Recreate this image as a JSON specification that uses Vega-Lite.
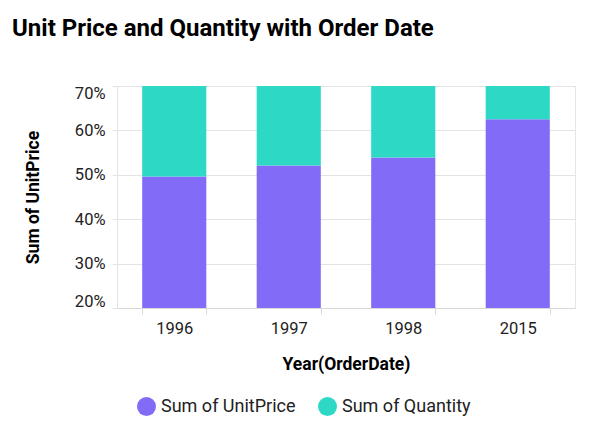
{
  "$schema": "https://vega.github.io/schema/vega-lite/v6.json",
  "autosize": "none",
  "padding": {"left": 117, "top": 86, "right": 19, "bottom": 140},
  "width": 458,
  "height": 222,
  "background": "white",
  "config": {
    "font": "Roboto",
    "view": {"stroke": "#e4e4e4"},
    "axis": {"labelFont": "Roboto", "titleFont": "Roboto"}
  },
  "title": {
    "text": "Unit Price and Quantity with Order Date",
    "anchor": "start",
    "frame": "group",
    "dx": -105,
    "offset": 44,
    "fontSize": 24,
    "fontWeight": "bold",
    "color": "#000000"
  },
  "data": {
    "values": [
      {"year": "1996", "measure": "Sum of UnitPrice", "share": 49.6},
      {"year": "1996", "measure": "Sum of Quantity", "share": 50.4},
      {"year": "1997", "measure": "Sum of UnitPrice", "share": 52.1},
      {"year": "1997", "measure": "Sum of Quantity", "share": 47.9},
      {"year": "1998", "measure": "Sum of UnitPrice", "share": 53.9},
      {"year": "1998", "measure": "Sum of Quantity", "share": 46.1},
      {"year": "2015", "measure": "Sum of UnitPrice", "share": 62.5},
      {"year": "2015", "measure": "Sum of Quantity", "share": 37.5}
    ]
  },
  "mark": {"type": "bar", "clip": true},
  "encoding": {
    "x": {
      "field": "year",
      "type": "ordinal",
      "title": "Year(OrderDate)",
      "scale": {"paddingInner": 0.44, "paddingOuter": 0.22},
      "axis": {
        "labelAngle": 0,
        "labelFontSize": 16.5,
        "labelColor": "#222222",
        "labelPadding": 6,
        "tickBand": "extent",
        "tickColor": "#d8d8d8",
        "tickSize": 6,
        "domainColor": "#d8d8d8",
        "titleFontSize": 17.5,
        "titleFontWeight": "bold",
        "titleColor": "#000000",
        "titlePadding": 19
      }
    },
    "y": {
      "field": "share",
      "type": "quantitative",
      "stack": "normalize",
      "title": "Sum of UnitPrice",
      "scale": {"domain": [0.2, 0.7], "nice": false},
      "axis": {
        "values": [0.2, 0.3, 0.4, 0.5, 0.6, 0.7],
        "format": ".0%",
        "labelFontSize": 16.5,
        "labelColor": "#222222",
        "labelPadding": 7,
        "labelFlush": true,
        "labelFlushOffset": 1,
        "domain": false,
        "tickColor": "#e4e4e4",
        "tickSize": 5,
        "gridColor": "#e4e4e4",
        "titleFontSize": 17.5,
        "titleFontWeight": "bold",
        "titleColor": "#000000",
        "titlePadding": 32
      }
    },
    "color": {
      "field": "measure",
      "type": "nominal",
      "scale": {
        "domain": ["Sum of UnitPrice", "Sum of Quantity"],
        "range": ["#826CF7", "#2DD9C5"]
      },
      "legend": {
        "title": null,
        "orient": "none",
        "direction": "horizontal",
        "legendX": 20,
        "legendY": 311,
        "symbolType": "circle",
        "symbolSize": 360,
        "symbolStrokeWidth": 0,
        "labelFontSize": 18,
        "labelColor": "#222222",
        "labelOffset": 5,
        "columnPadding": 22
      }
    },
    "order": {"field": "measure", "sort": "descending"}
  }
}
